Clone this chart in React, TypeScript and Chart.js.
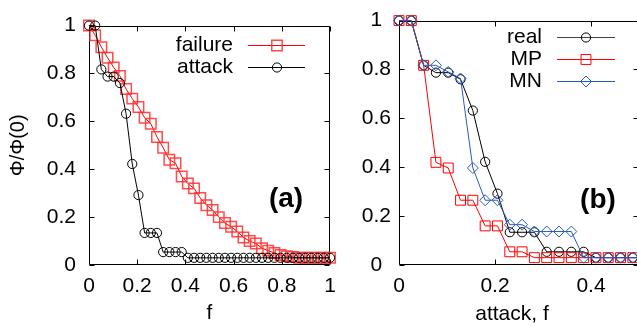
import React, { useEffect, useRef } from 'react';
import { Chart, registerables } from 'chart.js';

Chart.register(...registerables);

const FONT = '"Liberation Sans", Arial, Helvetica, sans-serif';

// fraction of removed nodes f = k / 39  (k = 0..39)
const fractions = Array.from({ length: 40 }, (_, k) => k / 39);

// panel (a)
const failureA = [
  1.0, 0.96, 0.91, 0.866, 0.825, 0.79, 0.735, 0.695, 0.66, 0.615,
  0.59, 0.535, 0.49, 0.44, 0.425, 0.37, 0.34, 0.32, 0.28, 0.25,
  0.23, 0.2, 0.175, 0.16, 0.14, 0.115, 0.1, 0.09, 0.07, 0.06,
  0.05, 0.042, 0.037, 0.033, 0.03, 0.03, 0.03, 0.03, 0.03, 0.03,
];
const attackA = [
  1.0, 1.0, 0.817, 0.787, 0.787, 0.76, 0.632, 0.422, 0.292, 0.134,
  0.134, 0.134, 0.054, 0.054, 0.054, 0.054, 0.03, 0.03, 0.03, 0.03,
  0.03, 0.03, 0.03, 0.03, 0.03, 0.03, 0.03, 0.03, 0.03, 0.03,
  0.03, 0.03, 0.03, 0.03, 0.03, 0.03, 0.03, 0.03, 0.03, 0.03,
];

// panel (b)  (k = 0..20)
const realB = attackA.slice(0, 21);
const mpB = [
  1.0, 1.0, 0.817, 0.42, 0.397, 0.265, 0.265, 0.16, 0.16, 0.054,
  0.054, 0.03, 0.03, 0.03, 0.03, 0.03, 0.03, 0.03, 0.03, 0.03, 0.03,
];
const mnB = [
  1.0, 1.0, 0.817, 0.817, 0.79, 0.763, 0.397, 0.265, 0.265, 0.165,
  0.165, 0.137, 0.137, 0.137, 0.137, 0.03, 0.03, 0.03, 0.03, 0.03, 0.03,
];

const xTicksA = [0, 0.2, 0.4, 0.6, 0.8, 1];
const xTicksB = [0, 0.2, 0.4];
const yTicks = [0, 0.2, 0.4, 0.6, 0.8, 1];

const fmt = (v: number) => String(Number(Number(v).toFixed(1)));

const framePlugin = {
  id: 'frameTicks',
  beforeDatasetsDraw(chart: any) {
    const { ctx, chartArea: a, scales } = chart;
    const x = scales.x;
    const y = scales.y;
    const L = Math.round(a.left) + 0.5;
    const R = Math.round(a.right) - 0.5;
    const T = Math.round(a.top) + 0.5;
    const B = Math.round(a.bottom) - 0.5;
    ctx.save();
    ctx.strokeStyle = '#000';
    ctx.lineWidth = 1;
    ctx.beginPath();
    ctx.rect(L, T, R - L, B - T);
    const len = 5;
    for (const t of x.ticks) {
      const px = Math.round(x.getPixelForValue(t.value)) + 0.5;
      ctx.moveTo(px, B);
      ctx.lineTo(px, B - len);
      ctx.moveTo(px, T);
      ctx.lineTo(px, T + len);
    }
    for (const t of y.ticks) {
      const py = Math.round(y.getPixelForValue(t.value)) + 0.5;
      ctx.moveTo(L, py);
      ctx.lineTo(L + len, py);
      ctx.moveTo(R, py);
      ctx.lineTo(R - len, py);
    }
    ctx.stroke();
    ctx.restore();
  },
};

function drawMarker(ctx: CanvasRenderingContext2D, style: string, x: number, y: number, r: number) {
  ctx.beginPath();
  if (style === 'circle') {
    ctx.arc(x, y, r, 0, Math.PI * 2);
  } else if (style === 'rect') {
    const s = Math.SQRT1_2 * r;
    ctx.rect(x - s, y - s, 2 * s, 2 * s);
  } else {
    ctx.moveTo(x - r, y);
    ctx.lineTo(x, y - r);
    ctx.lineTo(x + r, y);
    ctx.lineTo(x, y + r);
    ctx.closePath();
  }
  ctx.stroke();
}

const overlayPlugin = {
  id: 'overlay',
  afterDraw(chart: any, _args: any, opts: any) {
    const { ctx } = chart;
    ctx.save();
    // legend
    const lg = opts.legend;
    if (lg) {
      ctx.font = `21px ${FONT}`;
      ctx.textAlign = 'right';
      ctx.textBaseline = 'middle';
      lg.entries.forEach((e: any, i: number) => {
        const yy = lg.rows[i];
        ctx.fillStyle = '#000';
        ctx.fillText(e.label, lg.textRight, yy);
        ctx.strokeStyle = e.lineColor;
        ctx.lineWidth = 1;
        ctx.beginPath();
        ctx.moveTo(lg.x1, yy + 0.5);
        ctx.lineTo(lg.x2, yy + 0.5);
        ctx.stroke();
        ctx.strokeStyle = e.color;
        ctx.lineWidth = e.width;
        drawMarker(ctx, e.style, lg.xm, yy + 0.5, e.radius);
      });
    }
    // panel label
    if (opts.label) {
      ctx.font = `bold 28px ${FONT}`;
      ctx.fillStyle = '#000';
      ctx.textAlign = 'center';
      ctx.textBaseline = 'middle';
      ctx.fillText(opts.label.text, opts.label.x, opts.label.y);
    }
    if (opts.xTitle) {
      ctx.font = `21px ${FONT}`;
      ctx.fillStyle = '#000';
      ctx.textAlign = 'center';
      ctx.textBaseline = 'middle';
      ctx.fillText(opts.xTitle.text, opts.xTitle.x, opts.xTitle.y);
    }
    ctx.restore();
  },
};

function pts(xs: number[], ys: number[]) {
  return ys.map((v, i) => ({ x: xs[i], y: v }));
}

function makeOptions(p: any) {
  return {
    animation: false,
    responsive: false,
    devicePixelRatio: 1,
    events: [],
    layout: { autoPadding: false, padding: { left: 0, right: p.padRight, top: 16, bottom: 0 } },
    plugins: {
      legend: { display: false },
      tooltip: { enabled: false },
      overlay: p.overlay,
    },
    scales: {
      x: {
        type: 'linear',
        min: 0,
        max: p.xMax,
        afterBuildTicks: (s: any) => { s.ticks = p.xTicks.map((v: number) => ({ value: v })); },
        afterFit: (s: any) => { s.height = 61; },
        grid: { display: false, drawTicks: false },
        border: { display: false },
        ticks: { font: { family: FONT, size: 21 }, color: '#000', padding: 9, maxRotation: 0, autoSkip: false, callback: (v: any) => fmt(v) },
        title: p.xTitle
          ? { display: true, text: p.xTitle, font: { family: FONT, size: 21 }, color: '#000', padding: { top: 0, bottom: 0 } }
          : { display: false },
      },
      y: {
        type: 'linear',
        min: 0,
        max: 1,
        afterBuildTicks: (s: any) => { s.ticks = yTicks.map((v) => ({ value: v })); },
        afterFit: (s: any) => { s.width = p.yWidth; },
        grid: { display: false, drawTicks: false },
        border: { display: false },
        ticks: {
          font: { family: FONT, size: 21 }, color: '#000', padding: p.yPad, autoSkip: false,
          crossAlign: p.yAlign, callback: (v: any) => fmt(v),
        },
        title: p.yTitle
          ? { display: true, text: p.yTitle, font: { family: FONT, size: 20 }, color: '#000', padding: { top: 6, bottom: 0 } }
          : { display: false },
      },
    },
  };
}

const RED = 'rgb(255,0,0)';
const RED_MARK = 'rgba(255,45,45,0.85)';
const BLUE = 'rgb(40,90,190)';

export default function App() {
  const refA = useRef<HTMLCanvasElement>(null);
  const refB = useRef<HTMLCanvasElement>(null);

  useEffect(() => {
    const OFFB = 345;
    const chartA = new Chart(refA.current as HTMLCanvasElement, {
      type: 'line',
      data: {
        datasets: [
          {
            label: 'failure', data: pts(fractions, failureA), borderColor: RED, borderWidth: 1,
            pointStyle: 'rect', pointRadius: 7.4, pointBorderColor: RED_MARK, pointBorderWidth: 1.5,
            pointBackgroundColor: 'rgba(0,0,0,0)', tension: 0, fill: false, clip: false, order: 2,
          },
          {
            label: 'attack', data: pts(fractions, attackA), borderColor: '#000', borderWidth: 1,
            pointStyle: 'circle', pointRadius: 4.6, pointBorderColor: '#000', pointBorderWidth: 1,
            pointBackgroundColor: 'rgba(0,0,0,0)', tension: 0, fill: false, clip: false, order: 1,
          },
        ],
      } as any,
      options: makeOptions({
        xMax: 1, xTicks: xTicksA, yWidth: 89, yPad: 13, yAlign: 'near', padRight: 15, xTitle: 'f', yTitle: 'Φ/Φ(0)',
        overlay: {
          legend: {
            textRight: 233, x1: 248, x2: 305, xm: 277, rows: [45, 67],
            entries: [
              { label: 'failure', lineColor: RED, color: RED_MARK, style: 'rect', radius: 7.4, width: 1.5 },
              { label: 'attack', lineColor: '#000', color: '#000', style: 'circle', radius: 4.6, width: 1 },
            ],
          },
          label: { text: '(a)', x: 286, y: 199 },
        },
      }) as any,
      plugins: [framePlugin, overlayPlugin],
    });

    const xsB = fractions.slice(0, 21);
    const chartB = new Chart(refB.current as HTMLCanvasElement, {
      type: 'line',
      data: {
        datasets: [
          {
            label: 'real', data: pts(xsB, realB), borderColor: '#000', borderWidth: 1,
            pointStyle: 'circle', pointRadius: 4.6, pointBorderColor: '#000', pointBorderWidth: 1,
            pointBackgroundColor: 'rgba(0,0,0,0)', tension: 0, fill: false, clip: false, order: 3,
          },
          {
            label: 'MP', data: pts(xsB, mpB), borderColor: RED, borderWidth: 1,
            pointStyle: 'rect', pointRadius: 7, pointBorderColor: RED, pointBorderWidth: 1,
            pointBackgroundColor: 'rgba(0,0,0,0)', tension: 0, fill: false, clip: false, order: 2,
          },
          {
            label: 'MN', data: pts(xsB, mnB), borderColor: BLUE, borderWidth: 1,
            pointStyle: 'rectRot', pointRadius: 5.5, pointBorderColor: BLUE, pointBorderWidth: 1,
            pointBackgroundColor: 'rgba(0,0,0,0)', tension: 0, fill: false, clip: false, order: 1,
          },
        ],
      } as any,
      options: makeOptions({
        xMax: 0.5, xTicks: xTicksB, yWidth: 54, yPad: 8, yAlign: 'center', padRight: 11, xTitle: null, yTitle: null,
        overlay: {
          legend: {
            textRight: 542 - OFFB, x1: 557 - OFFB, x2: 615 - OFFB, xm: 586 - OFFB, rows: [37, 59, 81],
            entries: [
              { label: 'real', lineColor: '#444', color: '#000', style: 'circle', radius: 4.6, width: 1 },
              { label: 'MP', lineColor: RED, color: RED, style: 'rect', radius: 7, width: 1 },
              { label: 'MN', lineColor: BLUE, color: BLUE, style: 'rectRot', radius: 5.5, width: 1 },
            ],
          },
          label: { text: '(b)', x: 598 - OFFB, y: 200 },
          xTitle: { text: 'attack, f', x: 512 - OFFB, y: 314 },
        },
      }) as any,
      plugins: [framePlugin, overlayPlugin],
    });

    return () => {
      chartA.destroy();
      chartB.destroy();
    };
  }, []);

  return (
    <div style={{ position: 'fixed', left: 0, top: 0, width: 637, height: 326, overflow: 'hidden', background: '#fff' }}>
      <canvas ref={refA} width={345} height={326} style={{ position: 'absolute', left: 0, top: 0, width: 345, height: 326 }} />
      <canvas ref={refB} width={305} height={326} style={{ position: 'absolute', left: 345, top: 0, width: 305, height: 326 }} />
    </div>
  );
}
